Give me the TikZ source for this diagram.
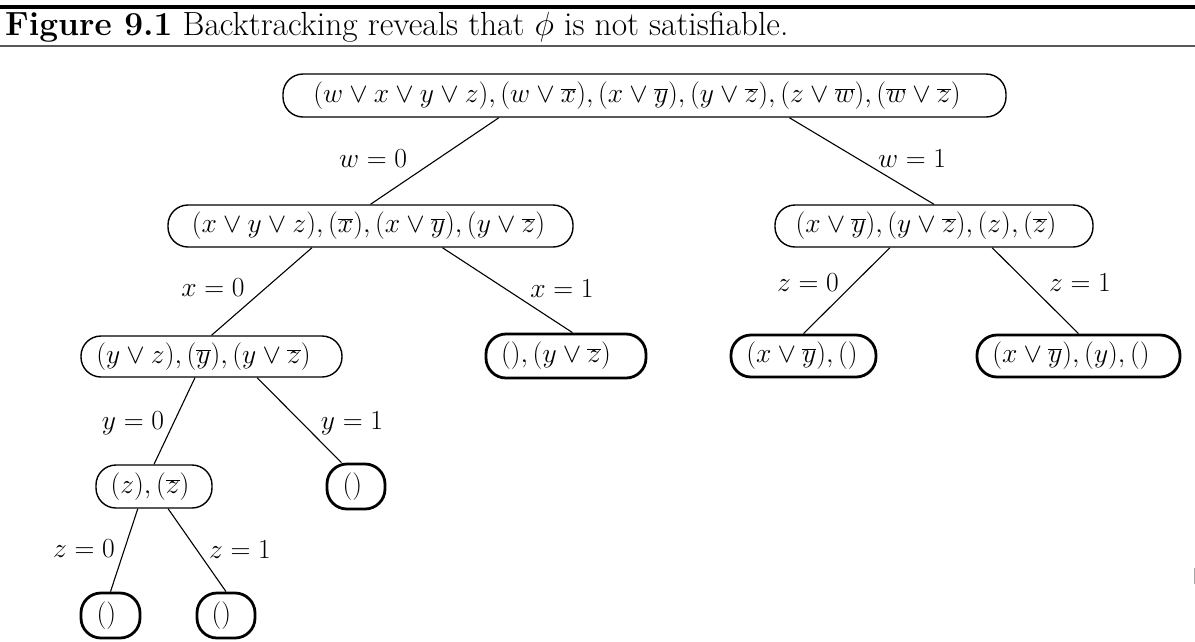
\RequirePackage{fix-cm}
\documentclass[tikz,border=0pt]{standalone}
\usetikzlibrary{calc}
\newcommand\fsz{\fontsize{27.6}{32}\selectfont}
\newcommand\tx[2]{$#2$\kern#1pt}
\begin{document}
\begin{tikzpicture}[x=1pt,y=-1pt,
  clause/.style={draw, line width=1.4pt, rounded corners=20pt, inner sep=0pt, font=\fsz},
  dead/.style={clause, line width=2.8pt},
  edge/.style={line width=1.1pt},
  lab/.style={font=\fsz, inner sep=0pt}]
\useasboundingbox (0,0) rectangle (1195,641);
% header rules and caption
\draw[line width=4pt] (0,7) -- (1195,7);
\draw[line width=2pt, black!65] (0,46) -- (1195,46);
\node[anchor=base west, inner sep=0pt, font=\fontsize{33.5}{38}\selectfont] (title) at (5,35)
  {\textbf{Figure 9.1} Backtracking reveals that $\phi$ is not satisfiable.};
\fill[black!35] (1193.5,568) rectangle (1195,584);
% nodes
\node[clause, minimum width=723pt, minimum height=43pt] (root) at (644.5,95.5)
  {\tx{15}{(w\vee x\vee y\vee z),(w\vee\overline{x}),(x\vee\overline{y}),(y\vee\overline{z}),(z\vee\overline{w}),(\overline{w}\vee\overline{z})}};
\node[clause, minimum width=405pt, minimum height=42pt] (L1) at (370.5,226)
  {\tx{4}{(x\vee y\vee z),(\overline{x}),(x\vee\overline{y}),(y\vee\overline{z})}};
\node[clause, minimum width=318pt, minimum height=42pt] (R1) at (934,226)
  {\tx{16}{(x\vee\overline{y}),(y\vee\overline{z}),(z),(\overline{z})}};
\node[clause, minimum width=261pt, minimum height=41pt] (L2) at (211.5,356.5)
  {\tx{16}{(y\vee z),(\overline{y}),(y\vee\overline{z})}};
\node[dead, minimum width=160pt, minimum height=44pt] (M) at (566,356)
  {\tx{20}{(),(y\vee\overline{z})}};
\node[dead, minimum width=145pt, minimum height=42pt] (RL) at (803.5,356)
  {\tx{3}{(x\vee\overline{y}),()}};
\node[dead, minimum width=203pt, minimum height=42pt] (RR) at (1078.5,356)
  {\tx{15}{(x\vee\overline{y}),(y),()}};
\node[clause, minimum width=116pt, minimum height=43pt] (L3) at (154,486.5)
  {\tx{8}{(z),(\overline{z})}};
\node[dead, minimum width=58pt, minimum height=45pt] (N) at (356,486.5)
  {\tx{7}{()}};
\node[dead, minimum width=59pt, minimum height=45pt] (LL) at (110.5,615.5)
  {\tx{8}{()}};
\node[dead, minimum width=58pt, minimum height=45pt] (LR) at (226,615.5)
  {\tx{9}{()}};
% edges
\draw[edge] ($(root.south west)!0.299!(root.south east)$) -- (L1.north);
\draw[edge] ($(root.south west)!0.700!(root.south east)$) -- (R1.north);
\draw[edge] ($(L1.south west)!0.356!(L1.south east)$) -- (L2.north);
\draw[edge] ($(L1.south west)!0.677!(L1.south east)$) -- ($(M.north west)!0.54!(M.north east)$);
\draw[edge] ($(R1.south west)!0.362!(R1.south east)$) -- (RL.north);
\draw[edge] ($(R1.south west)!0.682!(R1.south east)$) -- (RR.north);
\draw[edge] ($(L2.south west)!0.437!(L2.south east)$) -- (L3.north);
\draw[edge] ($(L2.south west)!0.674!(L2.south east)$) -- ($(N.north west)!0.26!(N.north east)$);
\draw[edge] ($(L3.south west)!0.362!(L3.south east)$) -- (LL.north);
\draw[edge] ($(L3.south west)!0.62!(L3.south east)$) -- (LR.north);
% edge labels
\node[lab] (lw0) at (373,159) {$w=0$};
\node[lab] (lw1) at (912,159) {$w=1$};
\node[lab] (lx0) at (213,288) {$x=0$};
\node[lab] (lx1) at (562,289) {$x=1$};
\node[lab] (lz0r) at (808,283) {$z=0$};
\node[lab] (lz1r) at (1080,283) {$z=1$};
\node[lab] (ly0) at (133,423) {$y=0$};
\node[lab] (ly1) at (352,423) {$y=1$};
\node[lab] (lz0) at (84,549) {$z=0$};
\node[lab] (lz1) at (240,550) {$z=1$};
\end{tikzpicture}
\end{document}
